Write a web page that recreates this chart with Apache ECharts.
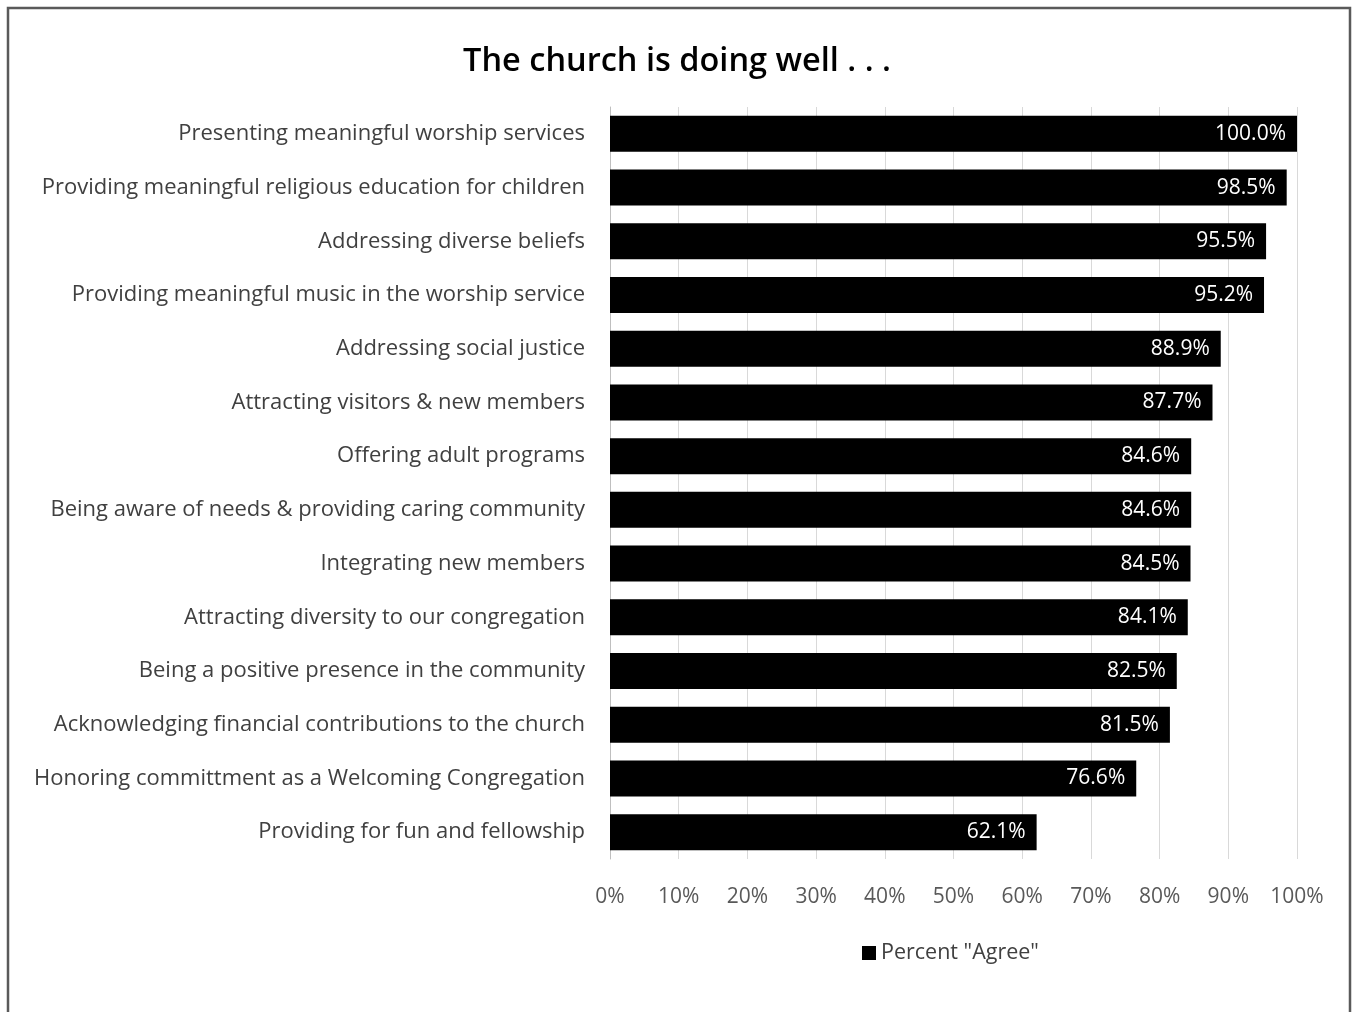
<!DOCTYPE html>
<html>
<head>
<meta charset="utf-8">
<script src="https://cdn.jsdelivr.net/npm/echarts@6/dist/echarts.min.js"></script>
<style>
html,body{margin:0;padding:0;background:#fff;}
#chart{width:1354px;height:1012px;}
</style>
</head>
<body>
<div id="chart"></div>
<script>
const categories = [
  "Presenting meaningful worship services",
  "Providing meaningful religious education for children",
  "Addressing diverse beliefs",
  "Providing meaningful music in the worship service",
  "Addressing social justice",
  "Attracting visitors & new members",
  "Offering adult programs",
  "Being aware of needs & providing caring community",
  "Integrating new members",
  "Attracting diversity to our congregation",
  "Being a positive presence in the community",
  "Acknowledging financial contributions to the church",
  "Honoring committment as a Welcoming Congregation",
  "Providing for fun and fellowship"
];
const percentAgree = [100.0, 98.5, 95.5, 95.2, 88.9, 87.7, 84.6, 84.6, 84.5, 84.1, 82.5, 81.5, 76.6, 62.1];
const xTicks = [0, 10, 20, 30, 40, 50, 60, 70, 80, 90, 100];
const seriesName = 'Percent "Agree"';
const titleText = "The church is doing well . . .";

const FONT = "Open Sans";
const chart = echarts.init(document.getElementById('chart'), null, {renderer: 'canvas'});
chart.setOption({
  animation: false,
  backgroundColor: '#ffffff',
  title: {
    text: titleText,
    left: 'center',
    top: 40,
    textStyle: {fontFamily: FONT, fontSize: 32.5, fontWeight: 600, color: '#000000'}
  },
  graphic: [{
    type: 'rect',
    shape: {x: 8, y: 8, width: 1342, height: 1012},
    style: {fill: 'none', stroke: '#5a5a5a', lineWidth: 2.5},
    silent: true
  }],
  legend: {
    data: [seriesName],
    left: 857,
    top: 937,
    icon: 'rect',
    itemWidth: 14,
    itemHeight: 14,
    itemGap: 7,
    textStyle: {fontFamily: FONT, fontSize: 21.5, color: '#404040'}
  },
  grid: {left: 610, right: 57, top: 107, bottom: 153, containLabel: false},
  xAxis: {
    type: 'value',
    min: xTicks[0],
    max: xTicks[xTicks.length - 1],
    interval: 10,
    axisLine: {show: false},
    axisTick: {show: false},
    splitLine: {show: true, lineStyle: {color: '#d9d9d9', width: 1}},
    axisLabel: {
      formatter: v => v + '%',
      fontFamily: FONT, fontSize: 21, color: '#595959', margin: 28
    }
  },
  yAxis: {
    type: 'category',
    data: categories,
    inverse: true,
    axisLine: {show: true, lineStyle: {color: '#bfbfbf', width: 1}},
    axisTick: {show: false},
    axisLabel: {fontFamily: FONT, fontSize: 22, color: '#404040', margin: 25}
  },
  series: [{
    name: seriesName,
    type: 'bar',
    data: percentAgree,
    barCategoryGap: '33%',
    itemStyle: {color: '#000000'},
    label: {
      show: true,
      position: 'insideRight',
      distance: 11,
      color: '#ffffff',
      fontFamily: FONT,
      fontSize: 21,
      formatter: p => p.value.toFixed(1) + '%'
    }
  }]
});
</script>
</body>
</html>
